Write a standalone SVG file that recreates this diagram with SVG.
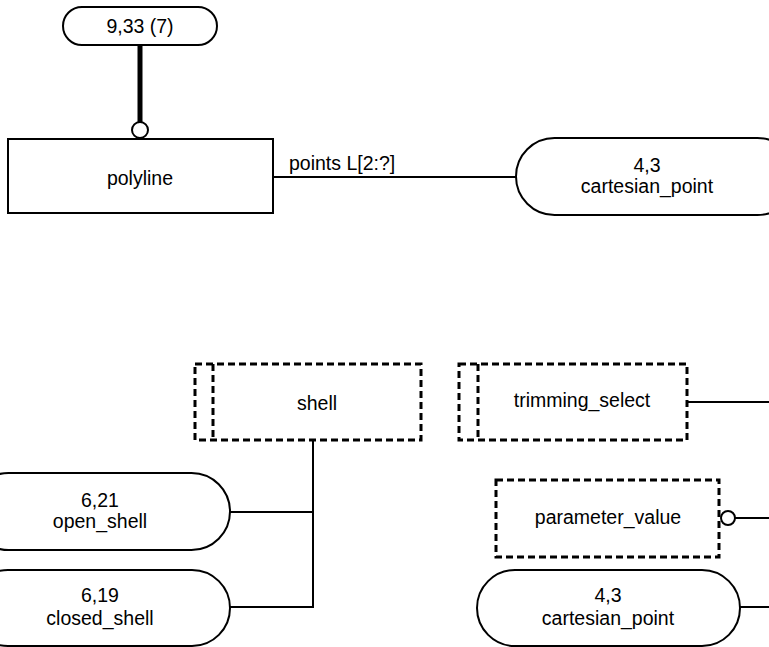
<svg xmlns="http://www.w3.org/2000/svg" width="769" height="647" viewBox="0 0 769 647">
<style>
.bg{fill:#fff}
.box{fill:#fff;stroke:#000;stroke-width:2}
.dash{fill:#fff;stroke:#000;stroke-width:3;stroke-dasharray:7 4}
.dl{fill:none;stroke:#000;stroke-width:3;stroke-dasharray:7 4}
.ln{fill:none;stroke:#000;stroke-width:2}
.thick{fill:none;stroke:#000;stroke-width:5}
.circ{fill:#fff;stroke:#000;stroke-width:2}
text{font-family:"Liberation Sans",Arial,sans-serif;font-size:19.5px;fill:#000;text-anchor:middle}
</style>
<rect class="bg" x="0" y="0" width="769" height="647"/>
<g id="connectors">
<line class="thick" x1="140" y1="45" x2="140" y2="122"/>
<circle class="circ" cx="140" cy="130" r="8"/>
<line class="ln" x1="273" y1="177" x2="516" y2="177"/>
<text x="289" y="170" style="text-anchor:start">points L[2:?]</text>
<polyline class="ln" points="313,441 313,607 230,607"/>
<line class="ln" x1="230" y1="512" x2="313" y2="512"/>
<line class="ln" x1="688" y1="402" x2="769" y2="402"/>
<circle class="circ" cx="728" cy="518" r="7"/>
<line class="ln" x1="735" y1="518" x2="769" y2="518"/>
<line class="ln" x1="740" y1="607" x2="769" y2="607"/>
</g>
<g id="node-9-33">
<rect class="box" x="63" y="7" width="154" height="38" rx="19" ry="19"/>
<text x="140" y="33">9,33 (7)</text>
</g>
<g id="node-polyline">
<rect class="box" x="8" y="139" width="265" height="74"/>
<text x="140" y="185">polyline</text>
</g>
<g id="node-cartesian-point-top">
<rect class="box" x="516" y="138" width="280" height="77" rx="38.5" ry="38.5"/>
<text x="647" y="172">4,3</text>
<text x="647" y="193">cartesian_point</text>
</g>
<g id="node-shell">
<rect class="dash" x="195" y="364" width="226" height="76"/>
<line class="dl" x1="213" y1="364" x2="213" y2="440"/>
<text x="317" y="410">shell</text>
</g>
<g id="node-open-shell">
<rect class="box" x="-30" y="473" width="260" height="77" rx="38.5" ry="38.5"/>
<text x="100" y="507">6,21</text>
<text x="100" y="528">open_shell</text>
</g>
<g id="node-closed-shell">
<rect class="box" x="-30" y="570" width="260" height="76" rx="38" ry="38"/>
<text x="100" y="602">6,19</text>
<text x="100" y="625">closed_shell</text>
</g>
<g id="node-trimming-select">
<rect class="dash" x="459" y="364" width="228" height="76"/>
<line class="dl" x1="478" y1="364" x2="478" y2="440"/>
<text x="582" y="407">trimming_select</text>
</g>
<g id="node-parameter-value">
<rect class="dash" x="496" y="480" width="223" height="77"/>
<text x="608" y="524">parameter_value</text>
</g>
<g id="node-cartesian-point-bottom">
<rect class="box" x="477" y="570" width="263" height="76" rx="38" ry="38"/>
<text x="608" y="602">4,3</text>
<text x="608" y="625">cartesian_point</text>
</g>
</svg>
